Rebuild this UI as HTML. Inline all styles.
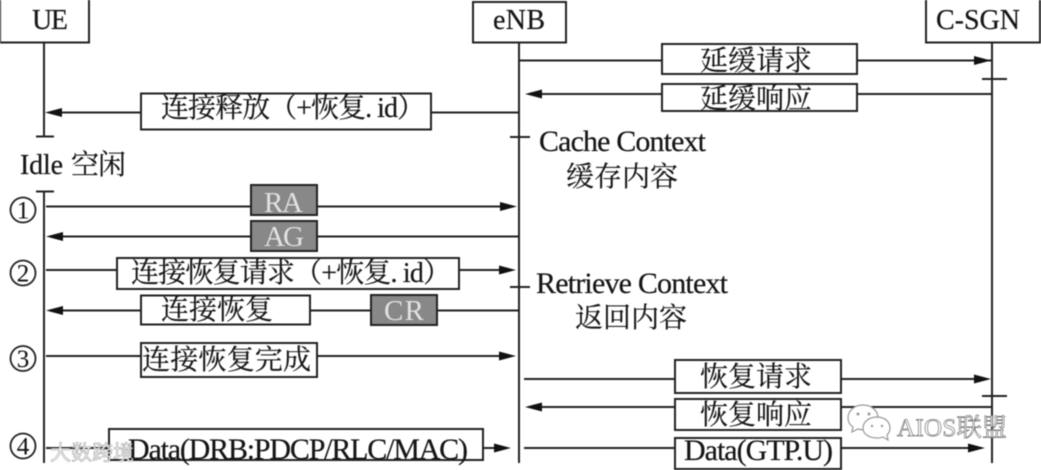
<!DOCTYPE html>
<html><head><meta charset="utf-8"><style>
html,body{margin:0;padding:0;background:#fff;width:1041px;height:470px;overflow:hidden}
svg{display:block;filter:blur(.45px)}
text{font-family:"Liberation Serif","Noto Serif CJK SC",serif;fill:#151515;font-size:28px;stroke:#151515;stroke-width:.2}
.g{fill:#e2e2e2;stroke:none;font-size:29px}
.b{fill:#fff;stroke:#222;stroke-width:2}
.k{fill:#888;stroke:#222;stroke-width:2}
.l{stroke:#222;stroke-width:2;fill:none}
.h{fill:#111}
.n{font-size:25px;stroke-width:.1}
.d{font-size:30px}
.w{font-family:"Liberation Sans","Noto Sans CJK SC",sans-serif;fill:#f4f4f4;stroke:#999;stroke-width:.5;font-size:21px}
.a{font-size:25px;fill:#fff;stroke:#777;stroke-width:.7}
</style></head><body>
<svg width="1041" height="470" viewBox="0 0 1041 470" xmlns="http://www.w3.org/2000/svg">
<rect class="b" x="0" y="-2" width="89" height="44.500"/>
<rect class="b" x="473" y="2" width="93" height="40.500"/>
<rect class="b" x="926" y="-2" width="114" height="44.500"/>
<path class="l" d="M44 42V136M36 136.500H54M36 191.500H54M44 191V463M519 42V463M510 137H530M510 287H530M992 42V463M982 79H1007M982 396H1007"/>
<path class="l" d="M519 60.500H991M991 94H530M519 112.500H50M46 206.500H512M519 236.500H50M46 270H512M519 310.500H50M46 356H512M46 448H506M524 379H986M991 407H530M524 448H980"/>
<path class="h" d="M991 60.500L974 56V65ZM525 94L542 89.500V98.500ZM45 112.500L62 108V117ZM517 206.500L500 202V211ZM46 236.500L63 232V241ZM516 270L499 265.500V274.500ZM46 310.500L63 306V315ZM516 356L499 351.500V360.500ZM511 448L494 443.500V452.500ZM991 379L974 374.500V383.500ZM525 407L542 402.500V411.500ZM985 448L968 443.500V452.500Z"/>
<rect class="b" x="662" y="44" width="195" height="30"/>
<rect class="b" x="662" y="84" width="195" height="27"/>
<rect class="b" x="141" y="93.500" width="290" height="36"/>
<rect class="k" x="251" y="185" width="66" height="30"/>
<rect class="k" x="251" y="221" width="66" height="30"/>
<rect class="b" x="117" y="258" width="342" height="31"/>
<rect class="b" x="141" y="295.500" width="169" height="29"/>
<rect class="k" x="371" y="295" width="66" height="30"/>
<rect class="b" x="141" y="343" width="176" height="34"/>
<rect class="b" x="109" y="429" width="374" height="31"/>
<rect class="b" x="675" y="360" width="166" height="33"/>
<rect class="b" x="675" y="399" width="166" height="31"/>
<rect class="b" x="675" y="438" width="166" height="31"/>
<text x="32" y="29" textLength="36">UE</text>
<text x="493" y="29" textLength="52">eNB</text>
<text x="936" y="29" textLength="84">C-SGN</text>
<text x="700" y="70" textLength="112">延缓请求</text>
<text x="700" y="108" textLength="112">延缓响应</text>
<text x="161" y="117" textLength="264">连接释放（+恢复. id）</text>
<text class="d" x="539" y="151" textLength="167">Cache Context</text>
<text x="566" y="186" textLength="112">缓存内容</text>
<text x="20" y="174" textLength="43">Idle</text>
<text x="71" y="174" textLength="55">空闲</text>
<text class="g" x="264" y="212" textLength="39">RA</text>
<text class="g" x="264" y="246" textLength="40">AG</text>
<text x="131" y="282" textLength="320">连接恢复请求（+恢复. id）</text>
<text x="161" y="319" textLength="112">连接恢复</text>
<text class="g" x="384" y="320" textLength="40">CR</text>
<text class="d" x="536" y="293" textLength="192">Retrieve Context</text>
<text x="575" y="327" textLength="112">返回内容</text>
<text x="142" y="369" textLength="169">连接恢复完成</text>
<text x="700" y="386" textLength="112">恢复请求</text>
<text x="700" y="424" textLength="112">恢复响应</text>
<text class="d" x="128" y="459" textLength="340">Data(DRB:PDCP/RLC/MAC)</text>
<text class="d" x="684" y="460" textLength="149">Data(GTP.U)</text>
<g fill="none" stroke="#222" stroke-width="1.8">
<circle cx="23" cy="210" r="12.500"/><circle cx="23" cy="273" r="12.500"/><circle cx="23" cy="358.500" r="12.500"/><circle cx="23" cy="446" r="12.500"/>
</g>
<g text-anchor="middle">
<text class="n" x="23" y="218.500">1</text><text class="n" x="23" y="281.500">2</text><text class="n" x="23" y="367">3</text><text class="n" x="23" y="454.500">4</text>
</g>
<text class="w" x="50" y="460" textLength="84">大数跨境</text>
<text class="a" x="897" y="436" textLength="110">AIOS联盟</text>
<g fill="#fff" stroke="#999" stroke-width="1.2">
<path d="M863 405C854 405 848 411 848 418C848 422 850 425 853 427L852 432L858 429C861 430 865 430 868 430C876 430 878 424 878 418C878 411 872 405 863 405Z"/>
<path d="M877 417C869 417 863 422 863 428C863 434 869 438 877 438C879 438 881 438 883 437L888 440L887 435C889 433 890 431 890 428C890 422 885 417 877 417Z"/>
</g>
<g fill="#999"><circle cx="858" cy="414" r="1.500"/><circle cx="869" cy="414" r="1.500"/><circle cx="872" cy="426" r="1.200"/><circle cx="882" cy="426" r="1.200"/></g>
</svg>
</body></html>
